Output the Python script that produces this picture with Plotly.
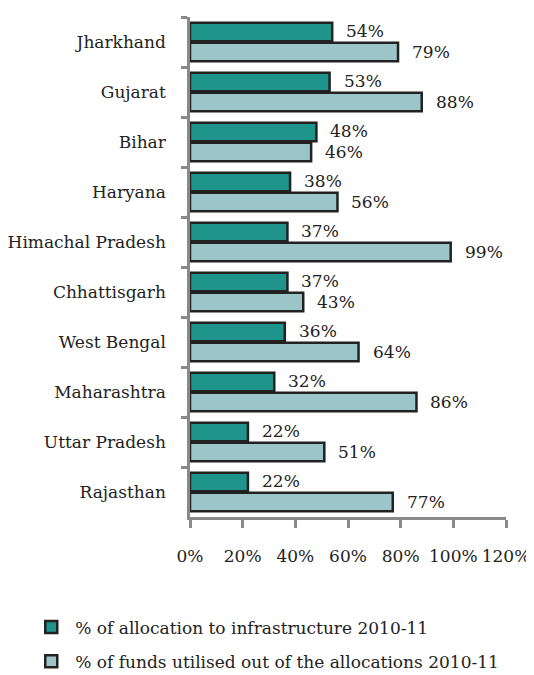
import plotly.graph_objects as go

states = ["Jharkhand", "Gujarat", "Bihar", "Haryana", "Himachal Pradesh",
          "Chhattisgarh", "West Bengal", "Maharashtra", "Uttar Pradesh", "Rajasthan"]
alloc = [54, 53, 48, 38, 37, 37, 36, 32, 22, 22]
utilised = [79, 88, 46, 56, 99, 43, 64, 86, 51, 77]
series_names = ["% of allocation to infrastructure 2010-11",
                "% of funds utilised out of the allocations 2010-11"]
xticks = [0, 20, 40, 60, 80, 100, 120]

FONT = "DejaVu Serif"
dark = "#1f948b"
light = "#9cc5c8"

fig = go.Figure()
fig.add_trace(go.Bar(y=states, x=alloc, orientation="h", name=series_names[0],
                     legendgroup="a",
                     marker=dict(color=dark, line=dict(color="#222222", width=2.5))))
fig.add_trace(go.Bar(y=states, x=utilised, orientation="h", name=series_names[1],
                     legendgroup="b",
                     marker=dict(color=light, line=dict(color="#222222", width=2.5))))

for s, a, u in zip(states, alloc, utilised):
    fig.add_annotation(x=a, y=s, text=f"{a}%", showarrow=False, xanchor="left",
                       xshift=12, yshift=11, font=dict(family=FONT, size=17, color="#222"))
    fig.add_annotation(x=u, y=s, text=f"{u}%", showarrow=False, xanchor="left",
                       xshift=12, yshift=-10, font=dict(family=FONT, size=17, color="#222"))

fig.update_layout(
    width=526, height=667,
    margin=dict(l=182, r=28, t=9, b=158, autoexpand=False),
    barmode="group", bargap=0.2, bargroupgap=0.08,
    plot_bgcolor="white", paper_bgcolor="white",
    font=dict(family=FONT, size=17, color="#222"),
    showlegend=True,
    legend=dict(x=-0.515, y=-0.185, xanchor="left", yanchor="top",
                orientation="v", font=dict(family=FONT, size=17),
                tracegroupgap=9, itemwidth=38),
    xaxis=dict(range=[0, 120], tickvals=xticks, ticktext=[f"{v}%" for v in xticks],
               showgrid=False, zeroline=False, showline=True, linecolor="#8a8a8a",
               linewidth=2.5, ticks="outside", ticklen=8, tickwidth=2.5,
               tickcolor="#8a8a8a", ticklabelstandoff=14, automargin=False),
    yaxis=dict(autorange="reversed", showgrid=False, showline=True,
               linecolor="#8a8a8a", linewidth=2.5, ticks="outside", ticklen=6,
               tickwidth=2.5, tickcolor="#8a8a8a", tickson="boundaries",
               ticklabelstandoff=18, automargin=False),
)

fig.write_html("out.html")
